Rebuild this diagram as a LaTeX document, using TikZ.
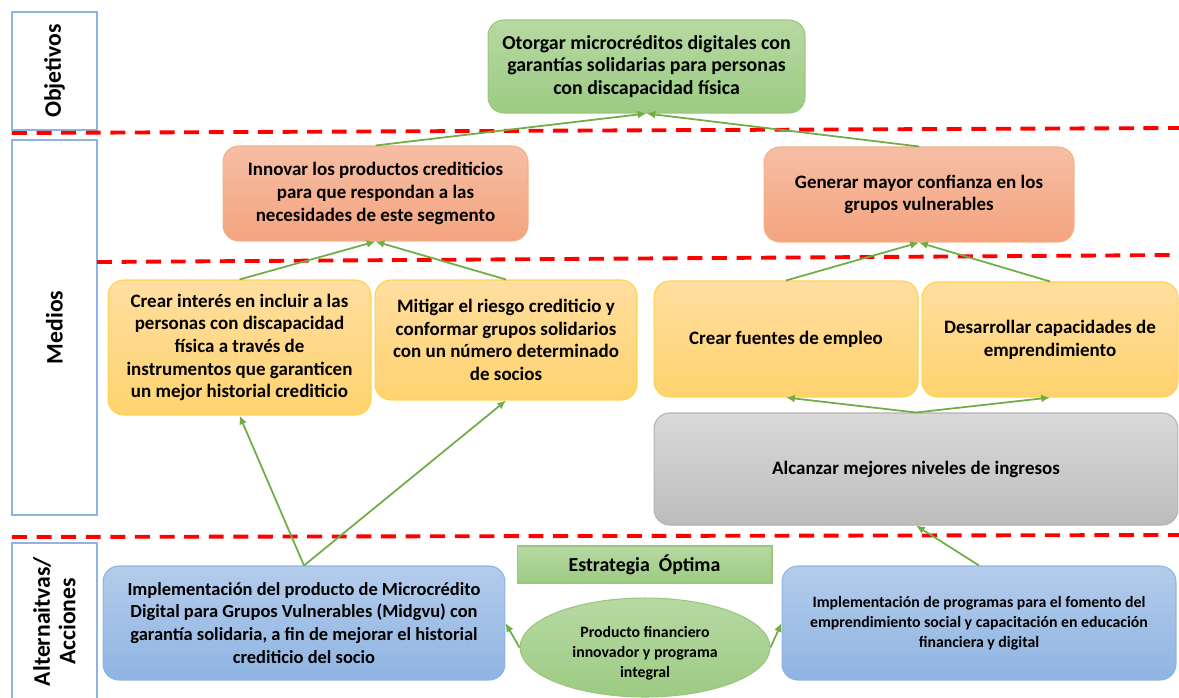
\documentclass[tikz,border=0pt]{standalone}
\usepackage{fontspec}
\setmainfont{Carlito}
\usetikzlibrary{arrows.meta,shapes.geometric}
\definecolor{arrowgreen}{HTML}{70AD47}
\definecolor{framebl}{HTML}{8EB4E3}
\definecolor{greentop}{HTML}{B7D9A3}
\definecolor{greenbot}{HTML}{9CCB83}
\definecolor{orangetop}{HTML}{F6BEA5}
\definecolor{orangebot}{HTML}{F4A47F}
\definecolor{orangeline}{HTML}{F4B183}
\definecolor{yellowtop}{HTML}{FFDEA0}
\definecolor{yellowbot}{HTML}{FFD36F}
\definecolor{yellowline}{HTML}{FFD24D}
\definecolor{graytop}{HTML}{D9D9D9}
\definecolor{graybot}{HTML}{BDBDBD}
\definecolor{bluetop}{HTML}{B4CCEB}
\definecolor{bluebot}{HTML}{8FB4E2}
\begin{document}
\begin{tikzpicture}[x=0.02cm,y=-0.02cm,
  box/.style={rounded corners=9pt,align=center,inner sep=2pt,line width=0.6pt,font=\bfseries\fontsize{10.8}{12.9}\selectfont},
  greenbox/.style={box,draw=arrowgreen!70,top color=greentop,bottom color=greenbot},
  orangebox/.style={box,draw=orangeline,top color=orangetop,bottom color=orangebot},
  yellowbox/.style={box,draw=yellowline,top color=yellowtop,bottom color=yellowbot},
  graybox/.style={box,draw=gray!60,top color=graytop,bottom color=graybot},
  bluebox/.style={box,draw=framebl,top color=bluetop,bottom color=bluebot},
  sidebox/.style={draw=framebl,line width=0.8pt,fill=white,inner sep=0pt,minimum width=1.7cm},
  sidelabel/.style={rotate=90,align=center,font=\bfseries\fontsize{13.5}{14.5}\selectfont},
  level/.style={draw=red,line width=2.2pt,dash pattern=on 8.5pt off 5.5pt},
  arr/.style={draw=arrowgreen,line width=1pt,-{Latex[length=5pt,width=4.5pt]}}]
\useasboundingbox (0,0) rectangle (1179,697);
% side labels
\node (lobj) at (54.5,71) [sidebox,minimum height=2.36cm] {};
\node (lmed) at (54.5,327.5) [sidebox,minimum height=7.5cm] {};
\node (lalt) at (54.5,621.5) [sidebox,minimum height=3.14cm] {};
\node at (lobj) [sidelabel] {Objetivos};
\node at (lmed) [sidelabel] {Medios};
\node at (lalt) [sidelabel] {Alternaitvas/\\Acciones};
% level separators
\coordinate (s1a) at (12,133);
\coordinate (s1b) at (1179,128);
\coordinate (s2a) at (97,262);
\coordinate (s2b) at (1179,255);
\coordinate (s3a) at (12,537);
\coordinate (s3b) at (1179,535);
\draw [level] (s1a) -- (s1b);
\draw [level] (s2a) -- (s2b);
\draw [level] (s3a) -- (s3b);
% objetivo
\node (obj) at (646.5,66.5) [greenbox,minimum width=6.34cm,minimum height=1.86cm,font=\bfseries\fontsize{11.3}{12.6}\selectfont] {Otorgar microcréditos digitales con\\garantías solidarias para personas\\con discapacidad física};
% medios
\node (innov) at (375.5,193.5) [orangebox,minimum width=6.1cm,minimum height=1.9cm] {Innovar los productos crediticios\\para que respondan a las\\necesidades de este segmento};
\node (conf) at (919,194.5) [orangebox,minimum width=6.2cm,minimum height=1.9cm] {Generar mayor confianza en los\\grupos vulnerables};
\node (interes) at (239.5,347.5) [yellowbox,minimum width=5.26cm,minimum height=2.7cm] {Crear interés en incluir a las\\personas con discapacidad\\física a través de\\instrumentos que garanticen\\un mejor historial crediticio};
\node (riesgo) at (506,340) [yellowbox,minimum width=5.24cm,minimum height=2.4cm] {Mitigar el riesgo crediticio y\\conformar grupos solidarios\\con un número determinado\\de socios};
\node (empleo) at (786,339) [yellowbox,minimum width=5.28cm,minimum height=2.32cm] {Crear fuentes de empleo};
\node (empren) at (1050,339.5) [yellowbox,minimum width=5.12cm,minimum height=2.3cm] {Desarrollar capacidades de\\emprendimiento};
\node (ingresos) at (916,469) [graybox,minimum width=10.48cm,minimum height=2.24cm] {Alcanzar mejores niveles de ingresos};
% alternativas
\node (estr) at (644.5,564.5) [draw=arrowgreen!70,line width=0.6pt,top color=greentop,bottom color=greenbot,minimum width=5.1cm,minimum height=0.74cm,font=\bfseries\fontsize{11.3}{13}\selectfont] {Estrategia~~Óptima};
\node (midgvu) at (304,623) [bluebox,minimum width=8.04cm,minimum height=2.28cm,font=\bfseries\fontsize{10.5}{13}\selectfont] {Implementación del producto de Microcrédito\\Digital para Grupos Vulnerables (Midgvu) con\\garantía solidaria, a fin de mejorar el historial\\crediticio del socio};
\node (prod) at (645,647.5) [ellipse,draw=arrowgreen!70,line width=0.6pt,top color=greentop,bottom color=greenbot,inner sep=0pt,minimum width=5cm,minimum height=1.98cm] {};
\node at ([yshift=-0.12cm]prod.center) [align=center,font=\bfseries\fontsize{9}{11.3}\selectfont] {Producto financiero\\innovador y programa\\integral};
\node (progr) at (979,623) [bluebox,minimum width=7.88cm,minimum height=2.28cm,font=\bfseries\fontsize{9}{11.3}\selectfont] {Implementación de programas para el fomento del\\emprendimiento social y capacitación en educación\\financiera y digital};
% connectors
\draw [arr] (innov.north) -- (obj.south);
\draw [arr] (conf.north) -- (obj.south);
\draw [arr] (interes.north) -- (innov.south);
\draw [arr] (riesgo.north) -- (innov.south);
\draw [arr] (empleo.north) -- (conf.south);
\draw [arr] (empren.north) -- (conf.south);
\draw [arr] (ingresos.north) -- (empleo.south);
\draw [arr] (ingresos.north) -- (empren.south);
\draw [arr] (midgvu.north) -- (interes.south);
\draw [arr] (midgvu.north) -- (riesgo.south);
\draw [arr] (progr.north) -- (ingresos.south);
\draw [arr] (prod.west) -- (midgvu.east);
\draw [arr] (prod.east) -- (progr.west);
\end{tikzpicture}
\end{document}
